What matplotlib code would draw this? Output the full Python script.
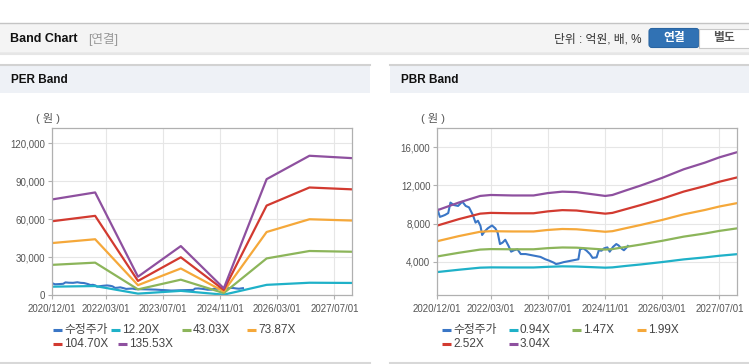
import matplotlib
matplotlib.use("Agg")
import matplotlib.pyplot as plt
from matplotlib.patches import Rectangle, FancyBboxPatch
from matplotlib.ticker import FuncFormatter
import pandas as pd

plt.rcParams['font.family'] = ['Liberation Sans', 'Noto Sans CJK KR']

# ---- data ----
tick_labels = ["2020/12/01", "2022/03/01", "2023/07/01", "2024/11/01", "2026/03/01", "2027/07/01"]
x_range = ["2020-12-01", "2027-12-01"]

colors = ["#3a76c6", "#1fb1c8", "#8cb55a", "#f5a83a", "#d23a30", "#8e509f"]
per_labels = ["수정주가", "12.20X", "43.03X", "73.87X", "104.70X", "135.53X"]
pbr_labels = ["수정주가", "0.94X", "1.47X", "1.99X", "2.52X", "3.04X"]

# 수정주가 (adjusted price)
price_dates = ["2020-12-01", "2020-12-23", "2021-01-15", "2021-02-04", "2021-03-04", "2021-03-23",
               "2021-04-20", "2021-05-27", "2021-07-02", "2021-07-31", "2021-08-28", "2021-09-30",
               "2021-10-23", "2021-11-12", "2021-12-04", "2021-12-18", "2022-01-07", "2022-02-04",
               "2022-03-12", "2022-04-09", "2022-04-29", "2022-05-19", "2022-06-10", "2022-07-03",
               "2022-07-31", "2022-08-22", "2022-09-16", "2022-10-15", "2022-11-12", "2022-12-24",
               "2023-02-04", "2023-03-18", "2023-04-29", "2023-06-10", "2023-07-14", "2023-08-20",
               "2023-09-08", "2023-10-01", "2023-11-12", "2023-12-24", "2024-02-04", "2024-03-17",
               "2024-03-31", "2024-04-28", "2024-05-26", "2024-06-24", "2024-07-16", "2024-08-19",
               "2024-09-07", "2024-09-30", "2024-10-22", "2024-11-19", "2024-12-09", "2025-01-06",
               "2025-02-03", "2025-02-23", "2025-03-17", "2025-04-09", "2025-04-29", "2025-05-13"]
price = [9550, 8700, 8800, 8900, 9100, 10200,
         9950, 9850, 10300, 9850, 9700, 8900,
         8100, 8300, 7750, 6800, 7150, 7500,
         7800, 7500, 7050, 5850, 6000, 6300,
         5650, 5050, 5200, 5300, 4800, 4800,
         4700, 4600, 4500, 4250, 4100, 3900,
         3750, 3800, 3950, 4050, 4150, 4250,
         5300, 5400, 5150, 4800, 4400, 4450,
         5200, 5150, 5400, 5500, 5050, 5550,
         5850, 5700, 5400, 5200, 5450, 5650]

# PER band
per_dates = ["2020-12-01", "2021-12-01", "2022-12-01", "2023-12-01",
             "2024-12-01", "2025-12-01", "2026-12-01", "2027-12-01"]
per_1220 = [6820, 7320, 1320, 3500, 500, 8260, 9930, 9760]
per_4303 = [24070, 25810, 4670, 12350, 1750, 29150, 35020, 34420]
per_7387 = [41310, 44310, 8010, 21200, 3000, 50030, 60110, 59080]
per_10470 = [58560, 62800, 11360, 30050, 4250, 70920, 85210, 83740]
per_13553 = [75800, 81300, 14700, 38900, 5500, 91800, 110300, 108400]

# PBR band
pbr_dates = ["2020-12-01", "2021-06-01", "2021-12-01", "2022-03-01", "2022-09-01", "2023-03-01",
             "2023-07-01", "2023-11-01", "2024-03-01", "2024-07-01", "2024-11-01", "2025-01-01",
             "2025-05-01", "2025-09-01", "2026-03-01", "2026-09-01", "2027-03-01", "2027-07-01",
             "2027-12-01"]
pbr_094 = [2910, 3150, 3370, 3400, 3390, 3390, 3460, 3510, 3490, 3430, 3370, 3400,
           3560, 3710, 3960, 4240, 4450, 4620, 4790]
pbr_147 = [4550, 4930, 5270, 5320, 5300, 5300, 5420, 5490, 5470, 5370, 5270, 5320,
           5560, 5800, 6190, 6630, 6960, 7230, 7500]
pbr_199 = [6150, 6680, 7140, 7200, 7170, 7170, 7330, 7430, 7400, 7270, 7140, 7200,
           7530, 7860, 8380, 8970, 9430, 9790, 10150]
pbr_252 = [7790, 8460, 9040, 9120, 9080, 9080, 9280, 9410, 9370, 9200, 9040, 9120,
           9530, 9950, 10610, 11360, 11940, 12390, 12850]
pbr_304 = [9400, 10200, 10900, 11000, 10950, 10950, 11200, 11350, 11300, 11100, 10900, 11000,
           11500, 12000, 12800, 13700, 14400, 14950, 15500]

per_ticks = [0, 30000, 60000, 90000, 120000]
pbr_ticks = [4000, 8000, 12000, 16000]

W, H = 749, 364
fig = plt.figure(figsize=(W / 100, H / 100), dpi=100)
fig.patch.set_facecolor("white")

# page frame drawn in pixel coords
bg = fig.add_axes([0, 0, 1, 1])
bg.set_xlim(0, W)
bg.set_ylim(H, 0)
bg.axis("off")

bg.add_patch(Rectangle((0, 22.5), W, 30, fc="#f4f4f4", ec="none"))
bg.plot([0, W], [22.5, 22.5], color="#c4c4c4", lw=1)
bg.plot([0, W], [52.5, 52.5], color="#c8c8c8", lw=1)
bg.plot([0, W], [54, 54], color="#e6e6e6", lw=1.5)
bg.text(10.5, 38.5, "Band Chart", fontsize=9, fontweight="bold", color="#111111", va="center")
bg.text(88, 39, "[연결]", fontsize=9, color="#999999", va="center")
bg.text(642, 39, "단위 : 억원, 배, %", fontsize=8.5, color="#333333", va="center", ha="right")
bg.add_patch(FancyBboxPatch((649, 28.5), 50, 19, boxstyle="round,pad=0,rounding_size=3",
                            fc="#3172b4", ec="#2a65a2", lw=0.8))
bg.text(674, 38.5, "연결", fontsize=8.5, fontweight="bold", color="white", ha="center", va="center")
bg.add_patch(Rectangle((699, 28.5), 52, 19, fc="white", ec="#c8c8c8", lw=0.8))
bg.text(724, 38.5, "별도", fontsize=8.5, fontweight="bold", color="#555555", ha="center", va="center")

for x0, x1, title in [(0, 370, "PER Band"), (390, W, "PBR Band")]:
    bg.add_patch(Rectangle((x0, 65), x1 - x0, 28, fc="#eef1f6", ec="none"))
    bg.plot([x0, x1], [64.5, 64.5], color="#d2d2d2", lw=1.5)
    bg.plot([x0, x1], [362.5, 362.5], color="#d8d8d8", lw=1.5)
    bg.text(x0 + 11, 80, title, fontsize=8.5, fontweight="bold", color="#111111", va="center")

bg.text(36, 118, "( 원 )", fontsize=8, color="#555555", va="center")
bg.text(421, 118, "( 원 )", fontsize=8, color="#555555", va="center")

# legends (flow layout, positions in pixels)
per_leg_pos = [(53, 330), (111, 330), (182, 330), (247, 330), (53, 344), (118, 344)]
pbr_leg_pos = [(442, 330), (509, 330), (572, 330), (637, 330), (442, 344), (509, 344)]
for labels, pos in [(per_labels, per_leg_pos), (pbr_labels, pbr_leg_pos)]:
    for lab, c, (lx, ly) in zip(labels, colors, pos):
        bg.plot([lx, lx + 9], [ly, ly], color=c, lw=2.2, solid_capstyle="butt")
        bg.text(lx + 11, ly, lab, fontsize=8.5, color="#444444", va="center")


def make_axes(left, ylim, yticks, bands, band_dates):
    ax = fig.add_axes([left / W, (H - 295.3) / H, 300 / W, 167 / H])
    ax.set_facecolor("white")
    ax.plot(pd.to_datetime(price_dates), price, color=colors[0], lw=1.5)
    for vals, c in zip(bands, colors[1:]):
        ax.plot(pd.to_datetime(band_dates), vals, color=c, lw=1.6)
    ax.set_xlim(pd.to_datetime(x_range[0]), pd.to_datetime(x_range[1]))
    ax.set_ylim(*ylim)
    ax.set_yticks(yticks)
    ax.yaxis.set_major_formatter(FuncFormatter(lambda v, p: f"{v:,.0f}"))
    ax.set_xticks(pd.to_datetime(tick_labels, format="%Y/%m/%d"))
    ax.set_xticklabels(tick_labels)
    ax.grid(True, color="#e6e6e6", lw=0.8)
    ax.set_axisbelow(True)
    for s in ax.spines.values():
        s.set_color("#b0b0b0")
        s.set_linewidth(0.9)
    ax.tick_params(length=3, width=0.8, color="#b0b0b0", labelsize=7, labelcolor="#555555")
    ax.tick_params(axis="x", pad=3)
    ax.tick_params(axis="y", pad=2)
    return ax


make_axes(52.3, (0, 132000), per_ticks,
          [per_1220, per_4303, per_7387, per_10470, per_13553], per_dates)
make_axes(437.3, (470, 18000), pbr_ticks,
          [pbr_094, pbr_147, pbr_199, pbr_252, pbr_304], pbr_dates)

fig.savefig("out.png", dpi=100)
